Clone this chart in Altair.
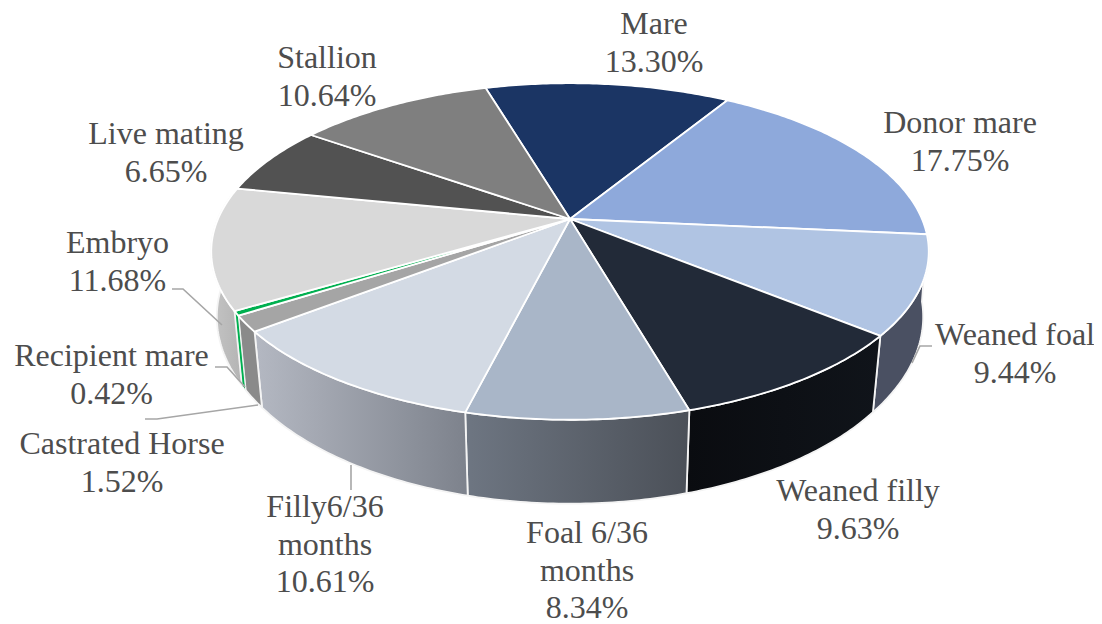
import math
import altair as alt
import pandas as pd

# ---- chart values
categories = ["Mare", "Donor mare", "Weaned foal", "Weaned filly", "Foal 6/36 months",
              "Filly6/36 months", "Castrated Horse", "Recipient mare", "Embryo",
              "Live mating", "Stallion"]
shares = [13.30, 17.75, 9.44, 9.63, 8.34, 10.61, 1.52, 0.42, 11.68, 6.65, 10.64]

top_colors = ["#1b3564", "#8ea9db", "#b0c4e3", "#222a38", "#a9b6c8", "#d3dae4",
              "#a5a5a5", "#00b050", "#d9d9d9", "#525252", "#7f7f7f"]

# side walls: category -> gradient stops (left to right)
wall_colors = {
    "Weaned foal": ("#4a5062", "#4a5062"),
    "Weaned filly": ("#0a0c10", "#10141a"),
    "Foal 6/36 months": ("#6e7682", "#4b5058"),
    "Filly6/36 months": ("#b4b8c2", "#7d828c"),
    "Castrated Horse": ("#8a8a8a", "#8a8a8a"),
    "Recipient mare": ("#00b050", "#00b050"),
    "Embryo": ("#c4c4c4", "#b4b4b4"),
}

label_texts = ["Mare\n13.30%", "Donor mare\n17.75%", "Weaned foal\n9.44%", "Weaned filly\n9.63%",
               "Foal 6/36\nmonths\n8.34%", "Filly6/36\nmonths\n10.61%", "Castrated Horse\n1.52%",
               "Recipient mare\n0.42%", "Embryo\n11.68%", "Live mating\n6.65%", "Stallion\n10.64%"]

# ---- layout
label_x = [654, 960, 1015, 858, 587, 325, 122, 111.5, 117.5, 166, 327]
label_y = [9, 108, 320, 476, 518, 492, 429, 341, 228, 119, 43]
leader_lines = {
    "Embryo": [(172, 289), (183, 289), (222, 325)],
    "Recipient mare": [(215, 367), (227, 367), (245, 387)],
    "Castrated Horse": [(145, 419), (157, 419), (258, 405)],
    "Filly6/36 months": [(351, 465), (351, 490)],
    "Weaned foal": [(932, 346), (920, 346), (912, 363)],
}
CX, CY, RX, SY, K = 570.0, 219.0, 352.0, 162.0, 0.193
START_DEG = -16.5
W_LEFT, W_RIGHT, H_TOP, H_BOT = 8, 1094, 8, 620


def top_pt(deg):
    a = math.radians(deg)
    X, Y = math.sin(a), math.cos(a)
    f = 1 + K * Y
    return CX + RX * X / f, CY - SY * Y / f


def low_pt(deg):
    x, y = top_pt(deg)
    Y = math.cos(math.radians(deg))
    s = 0.976 + 0.012 * min(1, max(0, 1 + Y / 0.63))
    return CX + (x - CX) * s, y + 76.5 + (y - 337) * 0.09


total = sum(shares)
edges = [START_DEG]
for s in shares:
    edges.append(edges[-1] + s / total * 360)


def arc(a, b):
    n = max(2, int(abs(b - a) / 0.75) + 1)
    return [a + (b - a) * i / n for i in range(n + 1)]


rows = []
for name, a, b in zip(categories, edges[:-1], edges[1:]):
    pts = [(CX, CY)] + [top_pt(d) for d in arc(a, b)] + [(CX, CY)]
    for i, (x, y) in enumerate(pts):
        rows.append({"cat": name, "i": i, "x": x, "y": y})
top_df = pd.DataFrame(rows)

xs = alt.Scale(domain=[W_LEFT, W_RIGHT], nice=False, zero=False)
ys = alt.Scale(domain=[H_BOT, H_TOP], nice=False, zero=False)
X = alt.X("x:Q", scale=xs, axis=None)
Y = alt.Y("y:Q", scale=ys, axis=None)

layers = []
for name, (c1, c2) in wall_colors.items():
    k = categories.index(name)
    a, b = edges[k], min(edges[k + 1], 278)
    dd = arc(a, b)
    pts = [top_pt(d) for d in dd] + [low_pt(d) for d in reversed(dd)]
    pts.append(pts[0])
    df = pd.DataFrame({"x": [p[0] for p in pts], "y": [p[1] for p in pts], "i": range(len(pts))})
    grad = alt.Gradient(gradient="linear", x1=0, x2=1, y1=0, y2=0,
                        stops=[alt.GradientStop(color=c1, offset=0), alt.GradientStop(color=c2, offset=1)])
    w = 1.0 if name == "Recipient mare" else 1.8
    layers.append(alt.Chart(df).mark_line(fill=grad, stroke="#f4f4f4", strokeWidth=w, strokeJoin="round", clip=False)
                  .encode(x=X, y=Y, order="i:Q"))

layers.append(
    alt.Chart(top_df).mark_line(stroke="#ffffff", strokeWidth=1.8, strokeJoin="round").encode(
        x=X, y=Y, order="i:Q", detail="cat:N",
        fill=alt.Fill("cat:N", scale=alt.Scale(domain=categories, range=top_colors), legend=None))
)

lead_rows = []
for name, pts in leader_lines.items():
    for i, (x, y) in enumerate(pts):
        lead_rows.append({"cat": name, "i": i, "x": x, "y": y})
layers.append(alt.Chart(pd.DataFrame(lead_rows)).mark_line(color="#a6a6a6", strokeWidth=1.6)
              .encode(x=X, y=Y, order="i:Q", detail="cat:N"))

lab = pd.DataFrame({"t": label_texts, "x": label_x, "y": label_y})
layers.append(alt.Chart(lab).mark_text(font="Liberation Serif", fontSize=32, color="#4d4d4d", align="center",
                                       baseline="top", lineBreak="\n", lineHeight=37.5)
              .encode(x=X, y=Y, text="t:N"))

chart = alt.layer(*layers).properties(
    width=W_RIGHT - W_LEFT, height=H_BOT - H_TOP, padding=0,
    autosize=alt.AutoSizeParams(type="none"),
    background="#ffffff",
).configure_view(stroke=None)
chart.save("out.html", embed_options={"renderer": "svg", "actions": False})
